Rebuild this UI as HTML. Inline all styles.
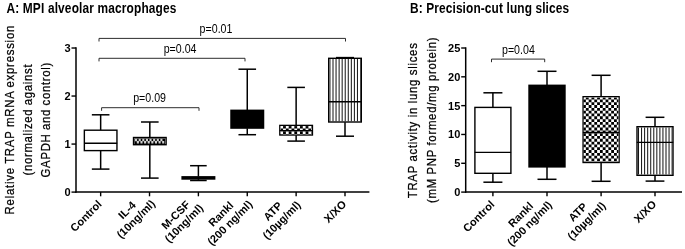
<!DOCTYPE html><html><head><meta charset="utf-8"><title>TRAP</title><style>html,body{margin:0;padding:0;background:#fff}svg{display:block;will-change:transform}text{font-family:"Liberation Sans",sans-serif;fill:#000}</style></head><body>
<svg width="685" height="249" viewBox="0 0 685 249">
<rect width="685" height="249" fill="#fff"/>
<text transform="translate(6.5,13.3) scale(0.85,1)" font-size="14" font-weight="bold" text-anchor="start" letter-spacing="0.181">A: MPI alveolar macrophages</text>
<line x1="76" y1="47.3" x2="76" y2="192.8" stroke="#000" stroke-width="1.5"/>
<line x1="75.3" y1="192.1" x2="369.4" y2="192.1" stroke="#000" stroke-width="1.5"/>
<line x1="71.5" y1="192.1" x2="76" y2="192.1" stroke="#000" stroke-width="1.4"/>
<text transform="translate(70.6,196)" font-size="11" font-weight="bold" text-anchor="end">0</text>
<line x1="71.5" y1="144.07" x2="76" y2="144.07" stroke="#000" stroke-width="1.4"/>
<text transform="translate(70.6,147.97)" font-size="11" font-weight="bold" text-anchor="end">1</text>
<line x1="71.5" y1="96.04" x2="76" y2="96.04" stroke="#000" stroke-width="1.4"/>
<text transform="translate(70.6,99.94)" font-size="11" font-weight="bold" text-anchor="end">2</text>
<line x1="71.5" y1="48.01" x2="76" y2="48.01" stroke="#000" stroke-width="1.4"/>
<text transform="translate(70.6,51.91)" font-size="11" font-weight="bold" text-anchor="end">3</text>
<line x1="100.65" y1="192.1" x2="100.65" y2="196.3" stroke="#000" stroke-width="1.4"/>
<line x1="149.52" y1="192.1" x2="149.52" y2="196.3" stroke="#000" stroke-width="1.4"/>
<line x1="198.39" y1="192.1" x2="198.39" y2="196.3" stroke="#000" stroke-width="1.4"/>
<line x1="247.26" y1="192.1" x2="247.26" y2="196.3" stroke="#000" stroke-width="1.4"/>
<line x1="296.13" y1="192.1" x2="296.13" y2="196.3" stroke="#000" stroke-width="1.4"/>
<line x1="345" y1="192.1" x2="345" y2="196.3" stroke="#000" stroke-width="1.4"/>
<line x1="100.65" y1="114.8" x2="100.65" y2="130" stroke="#000" stroke-width="1.5"/>
<line x1="91.85" y1="114.8" x2="109.45" y2="114.8" stroke="#000" stroke-width="1.5"/>
<line x1="100.65" y1="150.8" x2="100.65" y2="169.1" stroke="#000" stroke-width="1.5"/>
<line x1="91.85" y1="169.1" x2="109.45" y2="169.1" stroke="#000" stroke-width="1.5"/>
<rect x="83.65" y="129.5" width="34" height="21.8" fill="#000"/>
<rect x="85.05" y="130.9" width="31.2" height="19" fill="#fff"/>
<line x1="84.15" y1="143.3" x2="117.15" y2="143.3" stroke="#000" stroke-width="1.4"/>
<line x1="149.82" y1="122" x2="149.82" y2="137.3" stroke="#000" stroke-width="1.5"/>
<line x1="141.02" y1="122" x2="158.62" y2="122" stroke="#000" stroke-width="1.5"/>
<line x1="149.82" y1="144.9" x2="149.82" y2="178.1" stroke="#000" stroke-width="1.5"/>
<line x1="141.02" y1="178.1" x2="158.62" y2="178.1" stroke="#000" stroke-width="1.5"/>
<rect x="132.82" y="136.8" width="34" height="8.6" fill="#000"/>
<rect x="134.22" y="138.2" width="31.2" height="5.8" fill="#fff"/>
<clipPath id="c1"><rect x="134.22" y="138.2" width="31.2" height="5.8"/></clipPath><g clip-path="url(#c1)">
<rect x="134.22" y="138.2" width="31.2" height="5.8" fill="#000"/>
<path d="M135.02 138.7h2.1v2.5h-2.1zM136.82 141h2.1v2.5h-2.1zM138.64 138.7h2.1v2.5h-2.1zM140.44 141h2.1v2.5h-2.1zM142.26 138.7h2.1v2.5h-2.1zM144.06 141h2.1v2.5h-2.1zM145.88 138.7h2.1v2.5h-2.1zM147.68 141h2.1v2.5h-2.1zM149.5 138.7h2.1v2.5h-2.1zM151.3 141h2.1v2.5h-2.1zM153.12 138.7h2.1v2.5h-2.1zM154.92 141h2.1v2.5h-2.1zM156.74 138.7h2.1v2.5h-2.1zM158.54 141h2.1v2.5h-2.1zM160.36 138.7h2.1v2.5h-2.1zM162.16 141h2.1v2.5h-2.1z" fill="#d0d0d0"/>
</g>
<line x1="198.39" y1="165.7" x2="198.39" y2="176.6" stroke="#000" stroke-width="1.5"/>
<line x1="190.09" y1="165.7" x2="206.69" y2="165.7" stroke="#000" stroke-width="1.5"/>
<line x1="198.39" y1="179.2" x2="198.39" y2="180.5" stroke="#000" stroke-width="1.5"/>
<line x1="190.09" y1="180.5" x2="206.69" y2="180.5" stroke="#000" stroke-width="1.5"/>
<rect x="181.39" y="176.1" width="34" height="3.6" fill="#000"/>
<line x1="247.26" y1="69.2" x2="247.26" y2="110.1" stroke="#000" stroke-width="1.5"/>
<line x1="238.46" y1="69.2" x2="256.06" y2="69.2" stroke="#000" stroke-width="1.5"/>
<line x1="247.26" y1="128.3" x2="247.26" y2="134.7" stroke="#000" stroke-width="1.5"/>
<line x1="238.46" y1="134.7" x2="256.06" y2="134.7" stroke="#000" stroke-width="1.5"/>
<rect x="230.26" y="109.6" width="34" height="19.2" fill="#000"/>
<line x1="296.13" y1="87.4" x2="296.13" y2="125.2" stroke="#000" stroke-width="1.5"/>
<line x1="287.33" y1="87.4" x2="304.93" y2="87.4" stroke="#000" stroke-width="1.5"/>
<line x1="296.13" y1="135.2" x2="296.13" y2="141.1" stroke="#000" stroke-width="1.5"/>
<line x1="287.33" y1="141.1" x2="304.93" y2="141.1" stroke="#000" stroke-width="1.5"/>
<rect x="279.13" y="124.7" width="34" height="11" fill="#000"/>
<rect x="280.53" y="126.1" width="31.2" height="8.2" fill="#fff"/>
<clipPath id="c2"><rect x="280.53" y="126.1" width="31.2" height="8.2"/></clipPath><g clip-path="url(#c2)">
<rect x="280.53" y="126.1" width="31.2" height="8.2" fill="#000"/>
<path d="M277.44 122.86h2.81v2.81h-2.81zM283.06 122.86h2.81v2.81h-2.81zM288.69 122.86h2.81v2.81h-2.81zM294.32 122.86h2.81v2.81h-2.81zM299.95 122.86h2.81v2.81h-2.81zM305.58 122.86h2.81v2.81h-2.81zM311.21 122.86h2.81v2.81h-2.81zM280.25 125.67h2.81v2.81h-2.81zM285.88 125.67h2.81v2.81h-2.81zM291.51 125.67h2.81v2.81h-2.81zM297.14 125.67h2.81v2.81h-2.81zM302.77 125.67h2.81v2.81h-2.81zM308.4 125.67h2.81v2.81h-2.81zM314.03 125.67h2.81v2.81h-2.81zM277.44 128.49h2.81v2.81h-2.81zM283.06 128.49h2.81v2.81h-2.81zM288.69 128.49h2.81v2.81h-2.81zM294.32 128.49h2.81v2.81h-2.81zM299.95 128.49h2.81v2.81h-2.81zM305.58 128.49h2.81v2.81h-2.81zM311.21 128.49h2.81v2.81h-2.81zM280.25 131.3h2.81v2.81h-2.81zM285.88 131.3h2.81v2.81h-2.81zM291.51 131.3h2.81v2.81h-2.81zM297.14 131.3h2.81v2.81h-2.81zM302.77 131.3h2.81v2.81h-2.81zM308.4 131.3h2.81v2.81h-2.81zM314.03 131.3h2.81v2.81h-2.81zM277.44 134.12h2.81v2.81h-2.81zM283.06 134.12h2.81v2.81h-2.81zM288.69 134.12h2.81v2.81h-2.81zM294.32 134.12h2.81v2.81h-2.81zM299.95 134.12h2.81v2.81h-2.81zM305.58 134.12h2.81v2.81h-2.81zM311.21 134.12h2.81v2.81h-2.81zM280.25 136.93h2.81v2.81h-2.81zM285.88 136.93h2.81v2.81h-2.81zM291.51 136.93h2.81v2.81h-2.81zM297.14 136.93h2.81v2.81h-2.81zM302.77 136.93h2.81v2.81h-2.81zM308.4 136.93h2.81v2.81h-2.81zM314.03 136.93h2.81v2.81h-2.81z" fill="#fff"/>
</g>
<line x1="279.63" y1="130.6" x2="312.63" y2="130.6" stroke="#000" stroke-width="1.4"/>
<line x1="345" y1="57.6" x2="345" y2="58.1" stroke="#000" stroke-width="1.5"/>
<line x1="336" y1="57.6" x2="354" y2="57.6" stroke="#000" stroke-width="1.5"/>
<line x1="345" y1="122.2" x2="345" y2="136.2" stroke="#000" stroke-width="1.5"/>
<line x1="336" y1="136.2" x2="354" y2="136.2" stroke="#000" stroke-width="1.5"/>
<rect x="328" y="57.6" width="34" height="65.1" fill="#000"/>
<rect x="329.4" y="59" width="31.2" height="62.3" fill="#fff"/>
<clipPath id="c3"><rect x="329.4" y="59" width="31.2" height="62.3"/></clipPath><g clip-path="url(#c3)">
<path d="M326.89 58V122.3M329.94 58V122.3M333 58V122.3M336.06 58V122.3M339.11 58V122.3M342.17 58V122.3M345.22 58V122.3M348.28 58V122.3M351.33 58V122.3M354.39 58V122.3M357.44 58V122.3M360.5 58V122.3M363.55 58V122.3" stroke="#111" stroke-width="1.0" fill="none"/>
</g>
<line x1="328.5" y1="101.7" x2="361.5" y2="101.7" stroke="#000" stroke-width="1.4"/>
<polyline points="99,41.5 99,38.4 345.5,38.4 345.5,41.5" fill="none" stroke="#222" stroke-width="0.95"/>
<polyline points="99,61.4 99,58.3 245,58.3 245,61.4" fill="none" stroke="#222" stroke-width="0.95"/>
<polyline points="101.6,110.8 101.6,107.7 199,107.7 199,110.8" fill="none" stroke="#222" stroke-width="0.95"/>
<text transform="translate(216,32.7) scale(0.85,1)" font-size="12.5" font-weight="normal" text-anchor="middle">p=0.01</text>
<text transform="translate(180.1,52.7) scale(0.85,1)" font-size="12.5" font-weight="normal" text-anchor="middle">p=0.04</text>
<text transform="translate(149.6,101.5) scale(0.85,1)" font-size="12.5" font-weight="normal" text-anchor="middle">p=0.09</text>
<text transform="translate(13.5,214.4) rotate(-90) scale(0.85,1)" font-size="13.4" letter-spacing="0.884" word-spacing="-0.300" stroke="#000" stroke-width="0.25">Relative TRAP mRNA expression</text>
<text transform="translate(31.5,175.5) rotate(-90) scale(0.85,1)" font-size="13.4" letter-spacing="0.786" word-spacing="-0.300" stroke="#000" stroke-width="0.25">(normalized against</text>
<text transform="translate(49.5,177.4) rotate(-90) scale(0.85,1)" font-size="13.4" letter-spacing="0.793" word-spacing="-0.300" stroke="#000" stroke-width="0.25">GAPDH and control)</text>
<text transform="translate(102.45,204.9) rotate(-45)" font-size="11.0" font-weight="bold" text-anchor="end">Control</text>
<text transform="translate(138.53,221.69) rotate(-45)" font-size="11.0" font-weight="bold" text-anchor="middle">(10ng/ml)</text>
<text transform="translate(129.69,212.85) rotate(-45)" font-size="11.0" font-weight="bold" text-anchor="middle">IL-4</text>
<text transform="translate(186.6,225.89) rotate(-45)" font-size="11.0" font-weight="bold" text-anchor="middle">(10ng/ml)</text>
<text transform="translate(178.36,217.65) rotate(-45)" font-size="11.0" font-weight="bold" text-anchor="middle">M-CSF</text>
<text transform="translate(232.53,225.53) rotate(-45)" font-size="11.0" font-weight="bold" text-anchor="middle">(200 ng/ml)</text>
<text transform="translate(223.69,216.69) rotate(-45)" font-size="11.0" font-weight="bold" text-anchor="middle">Rankl</text>
<text transform="translate(284.28,222.75) rotate(-45)" font-size="11.0" font-weight="bold" text-anchor="middle">(10µg/ml)</text>
<text transform="translate(275.44,213.91) rotate(-45)" font-size="11.0" font-weight="bold" text-anchor="middle">ATP</text>
<text transform="translate(347.1,204.9) rotate(-45)" font-size="11.0" font-weight="bold" text-anchor="end">X/XO</text>
<text transform="translate(410,13.3) scale(0.85,1)" font-size="14" font-weight="bold" text-anchor="start" letter-spacing="0.137">B: Precision-cut lung slices</text>
<line x1="465.7" y1="47.3" x2="465.7" y2="192.8" stroke="#000" stroke-width="1.5"/>
<line x1="465" y1="192.1" x2="682" y2="192.1" stroke="#000" stroke-width="1.5"/>
<line x1="461.2" y1="192.1" x2="465.7" y2="192.1" stroke="#000" stroke-width="1.4"/>
<text transform="translate(460.3,196)" font-size="11" font-weight="bold" text-anchor="end">0</text>
<line x1="461.2" y1="163.28" x2="465.7" y2="163.28" stroke="#000" stroke-width="1.4"/>
<text transform="translate(460.3,167.18)" font-size="11" font-weight="bold" text-anchor="end">5</text>
<line x1="461.2" y1="134.46" x2="465.7" y2="134.46" stroke="#000" stroke-width="1.4"/>
<text transform="translate(460.3,138.36)" font-size="11" font-weight="bold" text-anchor="end">10</text>
<line x1="461.2" y1="105.64" x2="465.7" y2="105.64" stroke="#000" stroke-width="1.4"/>
<text transform="translate(460.3,109.54)" font-size="11" font-weight="bold" text-anchor="end">15</text>
<line x1="461.2" y1="76.82" x2="465.7" y2="76.82" stroke="#000" stroke-width="1.4"/>
<text transform="translate(460.3,80.72)" font-size="11" font-weight="bold" text-anchor="end">20</text>
<line x1="461.2" y1="48" x2="465.7" y2="48" stroke="#000" stroke-width="1.4"/>
<text transform="translate(460.3,51.9)" font-size="11" font-weight="bold" text-anchor="end">25</text>
<line x1="492.9" y1="192.1" x2="492.9" y2="196.3" stroke="#000" stroke-width="1.4"/>
<line x1="547" y1="192.1" x2="547" y2="196.3" stroke="#000" stroke-width="1.4"/>
<line x1="601.1" y1="192.1" x2="601.1" y2="196.3" stroke="#000" stroke-width="1.4"/>
<line x1="655" y1="192.1" x2="655" y2="196.3" stroke="#000" stroke-width="1.4"/>
<line x1="492.9" y1="92.8" x2="492.9" y2="107.2" stroke="#000" stroke-width="1.5"/>
<line x1="483.4" y1="92.8" x2="502.4" y2="92.8" stroke="#000" stroke-width="1.5"/>
<line x1="492.9" y1="173.5" x2="492.9" y2="182.2" stroke="#000" stroke-width="1.5"/>
<line x1="483.4" y1="182.2" x2="502.4" y2="182.2" stroke="#000" stroke-width="1.5"/>
<rect x="474.2" y="106.7" width="37.4" height="67.3" fill="#000"/>
<rect x="475.6" y="108.1" width="34.6" height="64.5" fill="#fff"/>
<line x1="474.7" y1="152.4" x2="511.1" y2="152.4" stroke="#000" stroke-width="1.4"/>
<line x1="547" y1="71.3" x2="547" y2="85.1" stroke="#000" stroke-width="1.5"/>
<line x1="537.5" y1="71.3" x2="556.5" y2="71.3" stroke="#000" stroke-width="1.5"/>
<line x1="547" y1="167.1" x2="547" y2="179.3" stroke="#000" stroke-width="1.5"/>
<line x1="537.5" y1="179.3" x2="556.5" y2="179.3" stroke="#000" stroke-width="1.5"/>
<rect x="528.3" y="84.6" width="37.4" height="83" fill="#000"/>
<line x1="601.1" y1="75.3" x2="601.1" y2="96.5" stroke="#000" stroke-width="1.5"/>
<line x1="591.6" y1="75.3" x2="610.6" y2="75.3" stroke="#000" stroke-width="1.5"/>
<line x1="601.1" y1="162.7" x2="601.1" y2="181.3" stroke="#000" stroke-width="1.5"/>
<line x1="591.6" y1="181.3" x2="610.6" y2="181.3" stroke="#000" stroke-width="1.5"/>
<rect x="582.4" y="96" width="37.4" height="67.2" fill="#000"/>
<rect x="583.8" y="97.4" width="34.6" height="64.4" fill="#fff"/>
<clipPath id="c4"><rect x="583.8" y="97.4" width="34.6" height="64.4"/></clipPath><g clip-path="url(#c4)">
<rect x="583.8" y="97.4" width="34.6" height="64.4" fill="#000"/>
<path d="M580.22 93.83h2.81v2.81h-2.81zM585.86 93.83h2.81v2.81h-2.81zM591.49 93.83h2.81v2.81h-2.81zM597.12 93.83h2.81v2.81h-2.81zM602.75 93.83h2.81v2.81h-2.81zM608.38 93.83h2.81v2.81h-2.81zM614 93.83h2.81v2.81h-2.81zM619.63 93.83h2.81v2.81h-2.81zM583.04 96.64h2.81v2.81h-2.81zM588.67 96.64h2.81v2.81h-2.81zM594.3 96.64h2.81v2.81h-2.81zM599.93 96.64h2.81v2.81h-2.81zM605.56 96.64h2.81v2.81h-2.81zM611.19 96.64h2.81v2.81h-2.81zM616.82 96.64h2.81v2.81h-2.81zM580.22 99.45h2.81v2.81h-2.81zM585.86 99.45h2.81v2.81h-2.81zM591.49 99.45h2.81v2.81h-2.81zM597.12 99.45h2.81v2.81h-2.81zM602.75 99.45h2.81v2.81h-2.81zM608.38 99.45h2.81v2.81h-2.81zM614 99.45h2.81v2.81h-2.81zM619.63 99.45h2.81v2.81h-2.81zM583.04 102.27h2.81v2.81h-2.81zM588.67 102.27h2.81v2.81h-2.81zM594.3 102.27h2.81v2.81h-2.81zM599.93 102.27h2.81v2.81h-2.81zM605.56 102.27h2.81v2.81h-2.81zM611.19 102.27h2.81v2.81h-2.81zM616.82 102.27h2.81v2.81h-2.81zM580.22 105.09h2.81v2.81h-2.81zM585.86 105.09h2.81v2.81h-2.81zM591.49 105.09h2.81v2.81h-2.81zM597.12 105.09h2.81v2.81h-2.81zM602.75 105.09h2.81v2.81h-2.81zM608.38 105.09h2.81v2.81h-2.81zM614 105.09h2.81v2.81h-2.81zM619.63 105.09h2.81v2.81h-2.81zM583.04 107.9h2.81v2.81h-2.81zM588.67 107.9h2.81v2.81h-2.81zM594.3 107.9h2.81v2.81h-2.81zM599.93 107.9h2.81v2.81h-2.81zM605.56 107.9h2.81v2.81h-2.81zM611.19 107.9h2.81v2.81h-2.81zM616.82 107.9h2.81v2.81h-2.81zM580.22 110.72h2.81v2.81h-2.81zM585.86 110.72h2.81v2.81h-2.81zM591.49 110.72h2.81v2.81h-2.81zM597.12 110.72h2.81v2.81h-2.81zM602.75 110.72h2.81v2.81h-2.81zM608.38 110.72h2.81v2.81h-2.81zM614 110.72h2.81v2.81h-2.81zM619.63 110.72h2.81v2.81h-2.81zM583.04 113.53h2.81v2.81h-2.81zM588.67 113.53h2.81v2.81h-2.81zM594.3 113.53h2.81v2.81h-2.81zM599.93 113.53h2.81v2.81h-2.81zM605.56 113.53h2.81v2.81h-2.81zM611.19 113.53h2.81v2.81h-2.81zM616.82 113.53h2.81v2.81h-2.81zM580.22 116.34h2.81v2.81h-2.81zM585.86 116.34h2.81v2.81h-2.81zM591.49 116.34h2.81v2.81h-2.81zM597.12 116.34h2.81v2.81h-2.81zM602.75 116.34h2.81v2.81h-2.81zM608.38 116.34h2.81v2.81h-2.81zM614 116.34h2.81v2.81h-2.81zM619.63 116.34h2.81v2.81h-2.81zM583.04 119.16h2.81v2.81h-2.81zM588.67 119.16h2.81v2.81h-2.81zM594.3 119.16h2.81v2.81h-2.81zM599.93 119.16h2.81v2.81h-2.81zM605.56 119.16h2.81v2.81h-2.81zM611.19 119.16h2.81v2.81h-2.81zM616.82 119.16h2.81v2.81h-2.81zM580.22 121.97h2.81v2.81h-2.81zM585.86 121.97h2.81v2.81h-2.81zM591.49 121.97h2.81v2.81h-2.81zM597.12 121.97h2.81v2.81h-2.81zM602.75 121.97h2.81v2.81h-2.81zM608.38 121.97h2.81v2.81h-2.81zM614 121.97h2.81v2.81h-2.81zM619.63 121.97h2.81v2.81h-2.81zM583.04 124.79h2.81v2.81h-2.81zM588.67 124.79h2.81v2.81h-2.81zM594.3 124.79h2.81v2.81h-2.81zM599.93 124.79h2.81v2.81h-2.81zM605.56 124.79h2.81v2.81h-2.81zM611.19 124.79h2.81v2.81h-2.81zM616.82 124.79h2.81v2.81h-2.81zM580.22 127.61h2.81v2.81h-2.81zM585.86 127.61h2.81v2.81h-2.81zM591.49 127.61h2.81v2.81h-2.81zM597.12 127.61h2.81v2.81h-2.81zM602.75 127.61h2.81v2.81h-2.81zM608.38 127.61h2.81v2.81h-2.81zM614 127.61h2.81v2.81h-2.81zM619.63 127.61h2.81v2.81h-2.81zM583.04 130.42h2.81v2.81h-2.81zM588.67 130.42h2.81v2.81h-2.81zM594.3 130.42h2.81v2.81h-2.81zM599.93 130.42h2.81v2.81h-2.81zM605.56 130.42h2.81v2.81h-2.81zM611.19 130.42h2.81v2.81h-2.81zM616.82 130.42h2.81v2.81h-2.81zM580.22 133.24h2.81v2.81h-2.81zM585.86 133.24h2.81v2.81h-2.81zM591.49 133.24h2.81v2.81h-2.81zM597.12 133.24h2.81v2.81h-2.81zM602.75 133.24h2.81v2.81h-2.81zM608.38 133.24h2.81v2.81h-2.81zM614 133.24h2.81v2.81h-2.81zM619.63 133.24h2.81v2.81h-2.81zM583.04 136.05h2.81v2.81h-2.81zM588.67 136.05h2.81v2.81h-2.81zM594.3 136.05h2.81v2.81h-2.81zM599.93 136.05h2.81v2.81h-2.81zM605.56 136.05h2.81v2.81h-2.81zM611.19 136.05h2.81v2.81h-2.81zM616.82 136.05h2.81v2.81h-2.81zM580.22 138.87h2.81v2.81h-2.81zM585.86 138.87h2.81v2.81h-2.81zM591.49 138.87h2.81v2.81h-2.81zM597.12 138.87h2.81v2.81h-2.81zM602.75 138.87h2.81v2.81h-2.81zM608.38 138.87h2.81v2.81h-2.81zM614 138.87h2.81v2.81h-2.81zM619.63 138.87h2.81v2.81h-2.81zM583.04 141.68h2.81v2.81h-2.81zM588.67 141.68h2.81v2.81h-2.81zM594.3 141.68h2.81v2.81h-2.81zM599.93 141.68h2.81v2.81h-2.81zM605.56 141.68h2.81v2.81h-2.81zM611.19 141.68h2.81v2.81h-2.81zM616.82 141.68h2.81v2.81h-2.81zM580.22 144.5h2.81v2.81h-2.81zM585.86 144.5h2.81v2.81h-2.81zM591.49 144.5h2.81v2.81h-2.81zM597.12 144.5h2.81v2.81h-2.81zM602.75 144.5h2.81v2.81h-2.81zM608.38 144.5h2.81v2.81h-2.81zM614 144.5h2.81v2.81h-2.81zM619.63 144.5h2.81v2.81h-2.81zM583.04 147.31h2.81v2.81h-2.81zM588.67 147.31h2.81v2.81h-2.81zM594.3 147.31h2.81v2.81h-2.81zM599.93 147.31h2.81v2.81h-2.81zM605.56 147.31h2.81v2.81h-2.81zM611.19 147.31h2.81v2.81h-2.81zM616.82 147.31h2.81v2.81h-2.81zM580.22 150.12h2.81v2.81h-2.81zM585.86 150.12h2.81v2.81h-2.81zM591.49 150.12h2.81v2.81h-2.81zM597.12 150.12h2.81v2.81h-2.81zM602.75 150.12h2.81v2.81h-2.81zM608.38 150.12h2.81v2.81h-2.81zM614 150.12h2.81v2.81h-2.81zM619.63 150.12h2.81v2.81h-2.81zM583.04 152.94h2.81v2.81h-2.81zM588.67 152.94h2.81v2.81h-2.81zM594.3 152.94h2.81v2.81h-2.81zM599.93 152.94h2.81v2.81h-2.81zM605.56 152.94h2.81v2.81h-2.81zM611.19 152.94h2.81v2.81h-2.81zM616.82 152.94h2.81v2.81h-2.81zM580.22 155.75h2.81v2.81h-2.81zM585.86 155.75h2.81v2.81h-2.81zM591.49 155.75h2.81v2.81h-2.81zM597.12 155.75h2.81v2.81h-2.81zM602.75 155.75h2.81v2.81h-2.81zM608.38 155.75h2.81v2.81h-2.81zM614 155.75h2.81v2.81h-2.81zM619.63 155.75h2.81v2.81h-2.81zM583.04 158.57h2.81v2.81h-2.81zM588.67 158.57h2.81v2.81h-2.81zM594.3 158.57h2.81v2.81h-2.81zM599.93 158.57h2.81v2.81h-2.81zM605.56 158.57h2.81v2.81h-2.81zM611.19 158.57h2.81v2.81h-2.81zM616.82 158.57h2.81v2.81h-2.81zM580.22 161.38h2.81v2.81h-2.81zM585.86 161.38h2.81v2.81h-2.81zM591.49 161.38h2.81v2.81h-2.81zM597.12 161.38h2.81v2.81h-2.81zM602.75 161.38h2.81v2.81h-2.81zM608.38 161.38h2.81v2.81h-2.81zM614 161.38h2.81v2.81h-2.81zM619.63 161.38h2.81v2.81h-2.81zM583.04 164.2h2.81v2.81h-2.81zM588.67 164.2h2.81v2.81h-2.81zM594.3 164.2h2.81v2.81h-2.81zM599.93 164.2h2.81v2.81h-2.81zM605.56 164.2h2.81v2.81h-2.81zM611.19 164.2h2.81v2.81h-2.81zM616.82 164.2h2.81v2.81h-2.81z" fill="#fff"/>
</g>
<line x1="582.9" y1="132.5" x2="619.3" y2="132.5" stroke="#000" stroke-width="1.4"/>
<line x1="655" y1="117.3" x2="655" y2="126.5" stroke="#000" stroke-width="1.5"/>
<line x1="645.6" y1="117.3" x2="664.4" y2="117.3" stroke="#000" stroke-width="1.5"/>
<line x1="655" y1="175.5" x2="655" y2="181.1" stroke="#000" stroke-width="1.5"/>
<line x1="645.6" y1="181.1" x2="664.4" y2="181.1" stroke="#000" stroke-width="1.5"/>
<rect x="636.3" y="126" width="37.4" height="50" fill="#000"/>
<rect x="637.7" y="127.4" width="34.6" height="47.2" fill="#fff"/>
<clipPath id="c5"><rect x="637.7" y="127.4" width="34.6" height="47.2"/></clipPath><g clip-path="url(#c5)">
<path d="M635.46 126.4V175.6M638.52 126.4V175.6M641.57 126.4V175.6M644.62 126.4V175.6M647.68 126.4V175.6M650.73 126.4V175.6M653.79 126.4V175.6M656.84 126.4V175.6M659.9 126.4V175.6M662.95 126.4V175.6M666.01 126.4V175.6M669.06 126.4V175.6M672.12 126.4V175.6M675.17 126.4V175.6" stroke="#111" stroke-width="1.0" fill="none"/>
</g>
<line x1="636.8" y1="142.4" x2="673.2" y2="142.4" stroke="#000" stroke-width="1.4"/>
<polyline points="491.5,62.2 491.5,59.1 544.7,59.1 544.7,62.2" fill="none" stroke="#222" stroke-width="0.95"/>
<text transform="translate(518.4,54) scale(0.85,1)" font-size="12.5" font-weight="normal" text-anchor="middle">p=0.04</text>
<text transform="translate(417.4,198.3) rotate(-90) scale(0.85,1)" font-size="13.4" letter-spacing="0.862" word-spacing="-0.300" stroke="#000" stroke-width="0.25">TRAP activity in lung slices</text>
<text transform="translate(435.6,203) rotate(-90) scale(0.85,1)" font-size="13.4" letter-spacing="0.844" word-spacing="-0.300" stroke="#000" stroke-width="0.25">(mM PNP formed/mg protein)</text>
<text transform="translate(495.1,205.2) rotate(-45)" font-size="11.0" font-weight="bold" text-anchor="end">Control</text>
<text transform="translate(532.17,226.13) rotate(-45)" font-size="11.0" font-weight="bold" text-anchor="middle">(200 ng/ml)</text>
<text transform="translate(523.33,217.29) rotate(-45)" font-size="11.0" font-weight="bold" text-anchor="middle">Rankl</text>
<text transform="translate(589.25,223.65) rotate(-45)" font-size="11.0" font-weight="bold" text-anchor="middle">(10µg/ml)</text>
<text transform="translate(580.41,214.81) rotate(-45)" font-size="11.0" font-weight="bold" text-anchor="middle">ATP</text>
<text transform="translate(657.1,205) rotate(-45)" font-size="11.0" font-weight="bold" text-anchor="end">X/XO</text>
</svg></body></html>
